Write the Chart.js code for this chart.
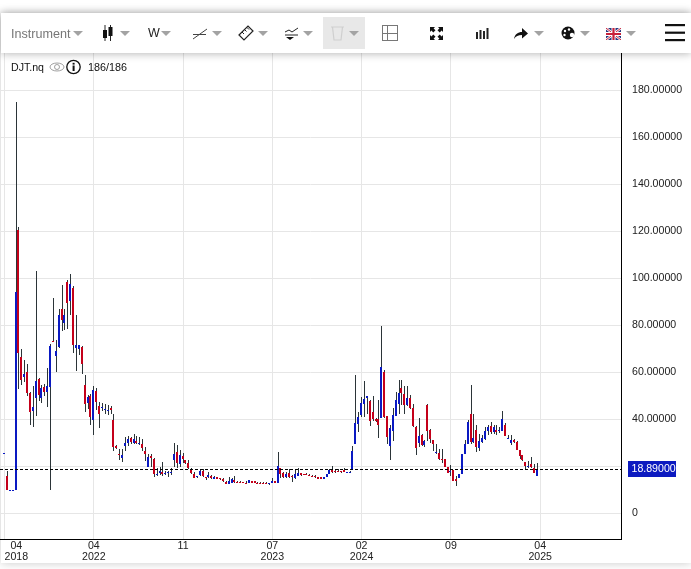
<!DOCTYPE html>
<html>
<head>
<meta charset="utf-8">
<title>DJT.nq</title>
<script src="https://cdn.jsdelivr.net/npm/chart.js@4/dist/chart.umd.min.js"></script>
<style>
  html, body { margin: 0; padding: 0; background: #fff; }
  body { width: 691px; height: 569px; overflow: hidden; position: relative; font-family: "Liberation Sans", Arial, sans-serif; }
  #card { position: absolute; left: 1px; right: 0; top: 13px; height: 550px; background: #fff; box-shadow: 0 0 9px rgba(0,0,0,.22); }
  canvas { position: absolute; left: 0; top: 0; }
  #bar { position: absolute; left: 1px; right: 0; top: 13px; height: 40px; background: #fff; box-shadow: 0 1px 8px rgba(0,0,0,.28); }
  #bar > * { position: absolute; }
  .caret { width: 0; height: 0; border-left: 5px solid transparent; border-right: 5px solid transparent; border-top: 5px solid #a3a3a3; top: 18px; }
  #instr { left: 10px; top: 13px; font-size: 12.6px; color: #777; line-height: 16px; }
  #period { left: 147px; top: 12px; font-size: 12.5px; color: #222; line-height: 16px; }
  #trash { left: 322px; top: 4px; width: 42px; height: 32px; background: #e8e8e8; }
  #info { position: absolute; left: 0; top: 58px; height: 18px; color: #111; font-size: 10.6px; line-height: 18px; }
  #info span, #info svg { position: absolute; top: 0; }
</style>
</head>
<body>
<div id="card"></div>
<canvas id="chart" width="691" height="569"></canvas>
<div id="bar">
  <span id="instr">Instrument</span><i class="caret" style="left:72px"></i>
  <svg style="left:100px;top:11px" width="12" height="18"><path d="M4 1v16M9.5 1v16" stroke="#222"/><rect x="2" y="6" width="4" height="8" fill="#111"/><rect x="7.5" y="3" width="4" height="9" fill="#111"/></svg><i class="caret" style="left:119px"></i>
  <span id="period">W</span><i class="caret" style="left:160px"></i>
  <svg style="left:191px;top:12px" width="16" height="16"><path d="M1 14L15 4M1 9.5h13" stroke="#444" fill="none"/></svg><i class="caret" style="left:211px"></i>
  <svg style="left:237px;top:12px" width="16" height="16"><path d="M1 10L10 1l5 5-9 9z" fill="none" stroke="#222" stroke-width="1.2"/><path d="M4 7l2 2M6.5 4.500l2 2M9 2.500l2 2" stroke="#222"/></svg><i class="caret" style="left:257px"></i>
  <svg style="left:283px;top:12px" width="16" height="16"><path d="M1 7l4-2 3 2 6-4M1 10h13" stroke="#222" fill="none"/><path d="M2 12h8l-4 3z" fill="#111"/></svg><i class="caret" style="left:302px"></i>
  <div id="trash"></div>
  <svg style="left:329px;top:11px" width="16" height="18"><path d="M1 3h13M2.500 3l1.500 13h7l1.500-13" fill="none" stroke="#cfcfcf" stroke-width="1.2"/></svg><i class="caret" style="left:348px"></i>
  <svg style="left:381px;top:12px" width="17" height="17"><rect x=".5" y=".5" width="15" height="15" fill="none" stroke="#777"/><path d="M5.500 1v14M1 8.500h14" stroke="#777"/></svg>
  <svg style="left:429px;top:14px" width="13" height="13" fill="#111"><path d="M0 0h5L3.600 1.400 5.500 3.300 3.300 5.500 1.400 3.600 0 5zM13 0v5L11.600 3.600 9.700 5.500 7.500 3.300 9.400 1.400 8 0zM0 13V8l1.400 1.400 1.900-1.900 2.200 2.200-1.900 1.900L5 13zM13 13H8l1.400-1.400-1.900-1.900 2.200-2.200 1.900 1.900L13 8z"/></svg>
  <svg style="left:475px;top:14px" width="13" height="12" fill="#222"><rect x="0" y="5" width="2" height="7"/><rect x="3.500" y="3" width="2" height="9"/><rect x="7" y="4" width="2" height="8"/><rect x="10.500" y="1" width="2" height="11"/></svg>
  <svg style="left:513px;top:14px" width="15" height="13"><path d="M0 12C1 7 4 5 8 5V1l6 5.500-6 5V8C4 8 2 9 0 12z" fill="#111"/></svg><i class="caret" style="left:533px"></i>
  <svg style="left:560px;top:13px" width="14" height="14"><circle cx="7" cy="7" r="6.500" fill="#111"/><circle cx="4" cy="5" r="1.200" fill="#fff"/><circle cx="8" cy="3.500" r="1.200" fill="#fff"/><circle cx="3.500" cy="9" r="1.200" fill="#fff"/><circle cx="11" cy="9" r="2.200" fill="#fff"/></svg><i class="caret" style="left:579px"></i>
  <svg style="left:605px;top:15px" width="15" height="12"><rect width="15" height="12" fill="#27367f"/><path d="M0 0l15 12M15 0L0 12" stroke="#fff" stroke-width="2.400"/><path d="M0 0l15 12M15 0L0 12" stroke="#c8203a"/><path d="M7.500 0v12M0 6h15" stroke="#fff" stroke-width="4"/><path d="M7.500 0v12M0 6h15" stroke="#c8203a" stroke-width="2.200"/></svg><i class="caret" style="left:625px"></i>
  <svg style="left:664px;top:10px" width="20" height="20" fill="#111"><rect y="1" width="20" height="2.200"/><rect y="8.600" width="20" height="2.200"/><rect y="16" width="20" height="2.200"/></svg>
</div>
<div id="info">
  <span style="left:11px">DJT.nq</span>
  <svg style="left:49px;top:3px" width="16" height="12"><ellipse cx="8" cy="6" rx="7" ry="4" fill="none" stroke="#888" stroke-width=".8"/><circle cx="8" cy="6" r="2.500" fill="none" stroke="#888" stroke-width=".8"/></svg>
  <svg style="left:66px;top:1px" width="16" height="16"><circle cx="7.500" cy="8" r="6.700" fill="none" stroke="#111" stroke-width="1.300"/><rect x="6.600" y="6.500" width="2" height="5.500" fill="#111"/><rect x="6.600" y="3.800" width="2" height="1.800" fill="#111"/></svg>
  <span style="left:88px;font-size:10.8px">186/186</span>
</div>
<script>
// weekly candles for DJT.nq
const opens = [
  25.2,15.9,9.7,9.7,9.9,120.5,66.3,58.1,60.1,51,
  43.5,49,57.1,49,53.7,51.6,53.7,73.3,66.9,70.7,
  86.8,80.9,98.4,90.3,95.8,70.3,69.9,70.7,54.6,46.9,
  49.9,39.7,52,45.6,44.9,44.1,43.6,44.8,39.7,28.6,
  25.2,23.4,28.6,30,32,29.8,30.8,29.5,29.5,26.6,
  19.8,24.1,23.1,16.4,17,17.4,16.9,16.9,17,22.7,
  26.1,21,24.1,22.7,21.2,18.7,16.7,15.3,16,18.1,
  15.3,15.3,15.9,14.7,15.3,14.9,14.6,13.3,12.5,13,
  14.2,13.3,13.3,13.2,13,13,13.5,13.5,12.9,12.9,
  13,12.9,12.2,12.6,13.6,13,19.3,17,15.3,17,
  15.6,14.9,15.9,16.9,16.6,16.7,16.3,15.9,15.9,15.2,
  15.2,14.7,15.2,16.7,18.7,17.9,17.7,17.7,18.2,17.3,
  17.3,18.8,29.5,38,41.9,46.6,49,47.8,43.1,40,
  40.2,40.6,60.2,41.4,28.7,35,41.4,46.6,53.4,50.8,
  46.1,49.1,44.9,36.8,30,33.4,29.1,46.1,35.5,31.2,
  25.4,25.6,23.2,23.2,19.5,17.7,18.4,14.7,15,16.7,
  25.2,29.5,42.2,30.3,35.4,27.8,30.3,31.6,35,37.1,
  34.4,35.4,35,35,37.5,31.7,29.9,31.2,30.3,26.9,
  24.8,21.8,19.7,21,19.2,15.6
]
const closes = [
  25.5,9.9,9.8,9.8,94.1,68,56.7,59.2,51.3,43.2,
  45.2,56.3,50.3,53.3,51.6,54.1,71.2,72.9,69,84.4,
  82.2,84.4,89.6,97.5,71.6,71.6,71.6,63.5,46.5,49.5,
  40.9,52.4,47.3,42.2,45.2,44.3,43.9,43.9,28.2,27.8,
  24.5,24.8,30,31.5,30.2,31.5,29.8,30,27.8,25.2,
  23.8,23.5,16.7,16.7,17.7,16.7,17.1,17.3,17.6,25.2,
  21.2,24.8,23,21.5,19.3,17,15,15.9,18.1,15.9,
  14.9,16.1,15,15.3,14.7,14.3,13.6,12.5,13.6,14.5,
  13.2,12.9,12.9,12.8,12.6,13.9,13,12.9,12.5,12.6,
  12.6,12.5,12.6,13.8,12.9,20.1,16.6,15.3,16.7,15.2,
  15.2,16.7,16.9,16,16.3,16.3,15.9,15.5,15.2,14.7,
  14.6,15.3,16.5,18.2,17.6,17.3,17.3,17.4,17.3,17.4,
  17.6,26.5,38.5,40.7,46.8,48.7,50,39,40.2,39.3,
  37.3,62.3,40.9,32.5,36.3,41.9,48.3,51.2,51.2,46.1,
  49.1,44.9,37.2,27.8,32.9,29.1,30.8,35.1,31.7,29.5,
  26.1,23.2,22.7,19.8,17.1,18.1,13.7,13.7,16.7,25.2,
  29.5,38.8,30.3,32,28.2,30.7,32,35,36.7,34.4,
  36.7,34.7,35.4,40.1,32.9,32,31.2,30.3,26.9,24.4,
  22.7,20.1,20.1,19.7,17.1,18.89
]
const highs = [
  25.5,17.7,9.8,9.8,175,121.8,69.9,65.2,63.5,51.6,
  54.1,103.1,57.7,54.6,55,61.8,72,91.6,73.7,86.9,
  97.1,87,99.2,101.8,96.7,84.4,71.6,71.2,58.8,50.3,
  50.7,54.1,53.3,47.3,46.9,46.5,46.1,45.6,42.2,29,
  27.3,27.2,32.3,32.9,32.3,33.7,32.6,32.3,31.5,28.3,
  25.2,25.2,23.4,19.1,19.5,21.8,17.7,17.7,19.1,29.8,
  28.9,26.9,25.5,22.7,22.7,19.1,17.3,15.9,18.6,18.6,
  15.3,17.3,16.3,15.6,15.5,15.1,14.8,13.6,15.3,14.9,
  15.9,13.5,13.5,13.4,13.6,14.2,13.7,13.7,13.1,13.1,
  13.2,13.1,12.8,14.9,13.8,26.1,19.3,17.3,17.3,18.7,
  16.3,18.7,19.1,17,16.8,16.9,16.5,16.3,16.1,15.4,
  15.4,15.5,16.7,18.7,19.9,18.7,18.7,17.9,19.1,17.6,
  17.8,28.7,58.9,42.9,49.4,56.3,50,48.3,50,40.4,
  48.3,79.7,61,41.4,37.5,44.9,51.7,56.6,56.6,53.9,
  54.2,50.4,46.6,37.2,40.6,33.8,31.2,46.6,35.9,31.2,
  29.5,27.4,27.4,23.2,19.5,20.5,18.4,15.6,16.7,25.2,
  31.2,39.7,54.6,42.2,37.5,33.7,33.3,36.7,37.5,38.8,
  37.5,37.5,36.8,43.5,38.4,33.3,33.3,31.6,30.7,26.9,
  24.8,21.8,22.2,23.9,20.9,21.3
]
const lows = [
  25.2,9.9,9.7,9.7,9.9,53,54.6,56,49.9,37.3,
  36.8,41.4,47.9,47,49.9,45.2,9.9,72.9,60.2,70.3,
  77.5,78,78.4,84.4,68.2,60.5,67.3,59.2,43.1,44.3,
  37.5,33.3,43.9,36.3,43.5,42.2,41.8,42.2,26.5,27.3,
  22.4,21.7,26.6,28.6,29.3,29.3,29.2,28.9,26.6,22.2,
  19.8,19.8,15.3,15.6,16.3,15.9,16.3,15.4,16.1,19.8,
  19.3,19.8,21.2,21,18.7,16.7,15,15.1,15.9,15.3,
  14.2,15,14.7,14.5,14.5,14.1,13.4,12.5,12.5,12.8,
  13,12.7,12.7,12.6,12.4,12.8,12.8,12.7,12.3,12.4,
  12.4,12.3,12.1,12.6,12.7,12.8,14.9,15,15,15,
  13.3,14.6,15.9,15.8,16.1,16.1,15.7,15.3,15,14.5,
  14.4,14.7,15.2,16.5,17,17.1,17.3,17.2,17.3,17.2,
  17.2,18.8,29.5,34.6,40.7,40.7,42.2,36.9,39.3,38.7,
  32.1,40.6,40.6,29.5,22.7,30.8,41.4,42.3,46.1,42.3,
  45.7,44.4,36.8,24.9,28.3,28.7,28.3,30.8,30,26.6,
  25.1,22.7,21.4,19.8,17.1,15.6,13.7,11.6,15,16.7,
  25.2,29.5,29.5,30,26.1,26.5,29.9,31.2,33.3,33.7,
  33.7,33.3,34,35,32.6,31.5,29,29.9,26.9,23.1,
  22.2,18.8,19.3,19.3,17.1,15.6
]

const timeTicks = [0, 31, 62, 93, 124, 155, 186]
// leading blanks keep the first label inside the canvas
const timeLabels = [['        04', '        2018'], ['04', '2022'], ['11'], ['07', '2023'], ['02', '2024'], ['09'], ['04', '2025']]
const priceTicks = [0, 20, 40, 60, 80, 100, 120, 140, 160, 180]
const lastPrice = 18.89

const UP = '#0a19c2'
const DOWN = '#c4001a'
const WICK = '#2b3438'
const xMin = -1.5625
const xMax = 214.06

const candleColors = closes.map((c, i) => c >= opens[i] ? UP : DOWN)

// snap bars to whole pixels so the thin candles stay sharp
const crispBars = {
  id: 'crispBars',
  beforeDatasetsDraw (chart) {
    chart.getSortedVisibleDatasetMetas().forEach((meta) => {
      if (meta.type !== 'bar') return
      const wick = meta.index === 2
      meta.data.forEach((el) => {
        const c = Math.round(el.x - 0.5)
        el.x = wick ? c + 0.5 : c
        const top = Math.round(Math.min(el.y, el.base))
        let bottom = Math.round(Math.max(el.y, el.base))
        if (bottom === top) bottom = top + 1
        el.y = top
        el.base = bottom
      })
    })
    const line = chart.getDatasetMeta(0)
    line.data.forEach((p) => { p.y = Math.floor(p.y + 0.5) + 0.5 })
  }
}

// blue tag with the last price on the axis
const priceTag = {
  id: 'priceTag',
  afterDraw (chart) {
    const { ctx } = chart
    const y = Math.floor(chart.scales.y.getPixelForValue(lastPrice) + 0.5) + 0.5
    ctx.save()
    ctx.fillStyle = '#0c1ac0'
    ctx.fillRect(628, y - 8.5, 48, 16)
    ctx.fillStyle = '#fff'
    ctx.font = '10.6px "Liberation Sans", Arial, sans-serif'
    ctx.textAlign = 'left'
    ctx.textBaseline = 'middle'
    ctx.fillText(lastPrice.toFixed(5), 631.5, y)
    ctx.restore()
  }
}

const axisFont = { family: '"Liberation Sans", Arial, sans-serif', size: 10.6, lineHeight: 1 }

new Chart(document.getElementById('chart').getContext('2d'), {
  type: 'bar',
  data: {
    datasets: [
      {
        type: 'line',
        order: 0,
        data: [{ x: xMin, y: lastPrice }, { x: xMax, y: lastPrice }],
        borderColor: '#000',
        borderWidth: 1,
        borderDash: [3, 2],
        pointRadius: 0
      },
      {
        order: 1,
        data: opens.map((o, i) => ({ x: i, y: [o, closes[i]] })),
        backgroundColor: candleColors,
        barThickness: 2,
        barPercentage: 1,
        grouped: false,
        inflateAmount: 0
      },
      {
        order: 2,
        data: lows.map((l, i) => ({ x: i, y: [l, highs[i]] })),
        backgroundColor: WICK,
        barThickness: 1,
        barPercentage: 1,
        grouped: false,
        inflateAmount: 0
      }
    ]
  },
  options: {
    responsive: false,
    animation: false,
    events: [],
    layout: { padding: { top: 53 } },
    plugins: { legend: { display: false }, tooltip: { enabled: false } },
    scales: {
      x: {
        type: 'linear',
        min: xMin,
        max: xMax,
        offset: false,
        afterBuildTicks: (scale) => { scale.ticks = timeTicks.map((v) => ({ value: v })) },
        afterFit: (scale) => {
          scale.height = 30
          scale.paddingLeft = 0
          scale.paddingRight = 0
        },
        grid: { color: '#e6e6e6', drawTicks: false, offset: false },
        border: { color: '#000', width: 1 },
        ticks: {
          autoSkip: false,
          maxRotation: 0,
          padding: 2,
          color: '#222',
          font: axisFont,
          callback: (value, index) => timeLabels[index]
        }
      },
      y: {
        position: 'right',
        min: -11.06,
        max: 195.9,
        afterBuildTicks: (scale) => { scale.ticks = priceTicks.map((v) => ({ value: v })) },
        afterFit: (scale) => {
          scale.width = 70
          scale.paddingTop = 0
          scale.paddingBottom = 0
        },
        grid: { color: '#e6e6e6', drawTicks: false },
        border: { color: '#000', width: 1 },
        ticks: {
          padding: 11,
          color: '#222',
          font: axisFont,
          callback: (value) => value === 0 ? '0' : value.toFixed(5)
        }
      }
    }
  },
  plugins: [crispBars, priceTag]
})
</script>
</body>
</html>
